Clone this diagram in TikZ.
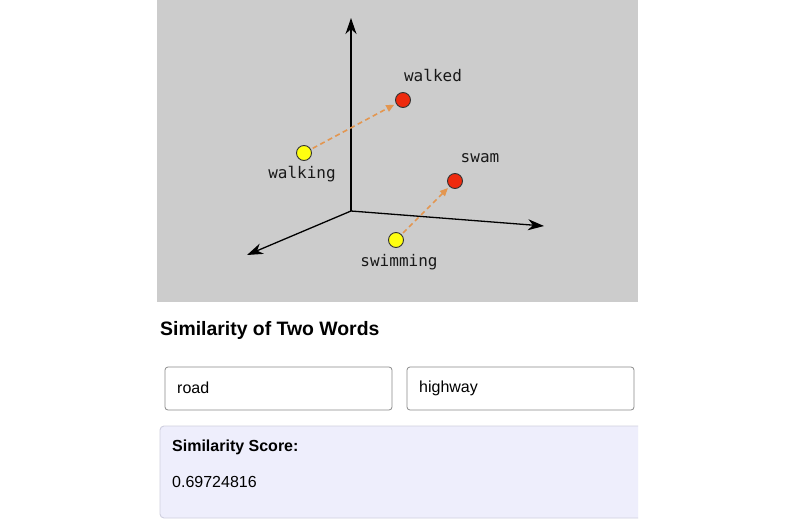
\documentclass[tikz,border=0pt]{standalone}
\usepackage{fontspec}
\setmainfont{Liberation Sans}
\newfontfamily\monofont{DejaVu Sans Mono}
\usetikzlibrary{arrows.meta}
\definecolor{panelgray}{HTML}{CCCCCC}
\definecolor{ptred}{HTML}{EE2A0E}
\definecolor{ptyellow}{HTML}{FFFF10}
\definecolor{dasharrow}{HTML}{E39650}
\definecolor{boxborder}{HTML}{8A8A8A}
\definecolor{scorefill}{HTML}{EEEEFC}
\definecolor{scoreborder}{HTML}{CFCFDF}
\begin{document}
\begin{tikzpicture}[x=1pt,y=-1pt,
  axis/.style={line width=1.3pt,-{Stealth[length=16pt,width=11pt,inset=5pt]}},
  redpt/.style={circle,draw=black!80,line width=0.9pt,fill=ptred,minimum size=15pt,inner sep=0pt},
  yelpt/.style={circle,draw=black!80,line width=0.9pt,fill=ptyellow,minimum size=15pt,inner sep=0pt},
  wordlbl/.style={font=\monofont\fontsize{16}{19}\selectfont,text=black!90,inner sep=0pt},
  movearrow/.style={draw=dasharrow,line width=1.6pt,dash pattern=on 5pt off 3.5pt,-{Triangle[length=8pt,width=7pt]},shorten <=2pt,shorten >=2pt},
  inbox/.style={draw=boxborder,line width=0.8pt,rounded corners=3pt,fill=white},
  uitext/.style={font=\fontsize{16}{19}\selectfont,anchor=west,inner sep=0pt}]
\useasboundingbox (0,0) rectangle (785,522);
\fill[white] (0,0) rectangle (785,522);
% panel
\fill[panelgray] (157,0) rectangle (638,302);
% axes
\coordinate (O) at (351,211);
\coordinate (zt) at (351,18);
\coordinate (xt) at (544,226);
\coordinate (yt) at (247,255);
\draw[axis] (O) -- (zt);
\draw[axis] (O) -- (xt);
\draw[axis] (O) -- (yt);
% points
\node[redpt] (walked) at (403,100) {};
\node[yelpt] (walking) at (304,153) {};
\node[redpt] (swam) at (455,181) {};
\node[yelpt] (swimming) at (396,240) {};
\draw[movearrow] (walking) -- (walked);
\draw[movearrow] (swimming) -- (swam);
\node[wordlbl] (lwalked) at (433,75) {walked};
\node[wordlbl] (lwalking) at (302,174) {walking};
\node[wordlbl] (lswam) at (480,158) {swam};
\node[wordlbl] (lswimming) at (399,262) {swimming};
% UI
\node[font=\bfseries\fontsize{19.4}{22}\selectfont,anchor=west,inner sep=0pt] (title) at (160,330) {Similarity of Two Words};
\draw[inbox] (165,367) rectangle (392,410);
\draw[inbox] (407,367) rectangle (634,410);
\node[uitext] (w1) at (177,388) {road};
\node[uitext] (w2) at (419,388) {highway};
\begin{scope}
\clip (150,420) rectangle (638,522);
\draw[draw=scoreborder,fill=scorefill,line width=0.9pt,rounded corners=4pt] (160,426) rectangle (660,518);
\end{scope}
\node[uitext,font=\bfseries\fontsize{16}{19}\selectfont] (slabel) at (172,447) {Similarity Score:};
\node[uitext] (score) at (172,482) {0.69724816};
\end{tikzpicture}
\end{document}
